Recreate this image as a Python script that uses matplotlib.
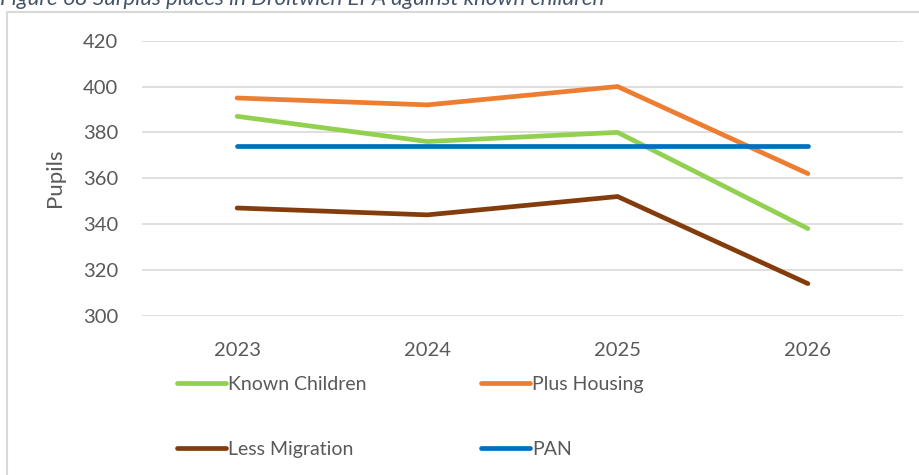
import matplotlib
matplotlib.use("Agg")
import matplotlib.pyplot as plt
from matplotlib.patches import Rectangle

years = ["2023", "2024", "2025", "2026"]
known_children = [387, 376, 380, 338]
plus_housing = [395, 392, 400, 362]
less_migration = [347, 344, 352, 314]
pan = [374, 374, 374, 374]
y_ticks = [300, 320, 340, 360, 380, 400, 420]

plt.rcParams["font.family"] = ["Lato", "DejaVu Sans"]
text_col = "#595959"

W, H = 920, 475
fig = plt.figure(figsize=(W / 100, H / 100), dpi=100)
ax = fig.add_axes([142 / W, 1 - 315.7 / H, (903 - 142) / W, (315.7 - 40.7) / H])

x = range(len(years))
lw = 3.4
style = dict(lw=lw, solid_capstyle="round", solid_joinstyle="round")
l_known, = ax.plot(x, known_children, color="#92D050", label="Known Children", **style)
l_plus, = ax.plot(x, plus_housing, color="#ED7D31", label="Plus Housing", **style)
l_less, = ax.plot(x, less_migration, color="#843C0C", label="Less Migration", **style)
l_pan, = ax.plot(x, pan, color="#0070C0", label="PAN", **style)

ax.set_xlim(-0.5, 3.5)
ax.set_ylim(300, 420)
ax.set_yticks(y_ticks)
ax.set_xticks(list(x))
ax.set_xticklabels(years)
ax.grid(axis="y", color="#D9D9D9", lw=1.2)
ax.set_axisbelow(True)
for s in ax.spines.values():
    s.set_visible(False)
ax.tick_params(axis="both", length=0, labelsize=14.5, labelcolor=text_col)
ax.tick_params(axis="y", pad=17)
ax.tick_params(axis="x", pad=19)
ax.set_ylabel("Pupils", fontsize=16, color=text_col, labelpad=13)

fig.legend(
    [l_known, l_less, l_plus, l_pan],
    ["Known Children", "Less Migration", "Plus Housing", "PAN"],
    ncol=2, frameon=False, loc="upper left",
    bbox_to_anchor=(177 / W, 1 - 376 / H),
    fontsize=14, labelcolor=text_col,
    handlelength=2.5, handletextpad=0.12,
    columnspacing=5.9, labelspacing=2.45, borderpad=0, borderaxespad=0,
)

# chart frame
fig.patches.append(Rectangle((7 / W, -0.1), 1.2, 1 - 12 / H + 0.1, transform=fig.transFigure,
                             fill=False, edgecolor="#D9D9D9", lw=1.5))

fig.text(0, 1 - 5 / H, "Figure 68 Surplus places in Droitwich EPA against known children",
         fontsize=16, style="italic", color="#44546A", va="baseline", ha="left")

fig.savefig("out.png", dpi=100)
